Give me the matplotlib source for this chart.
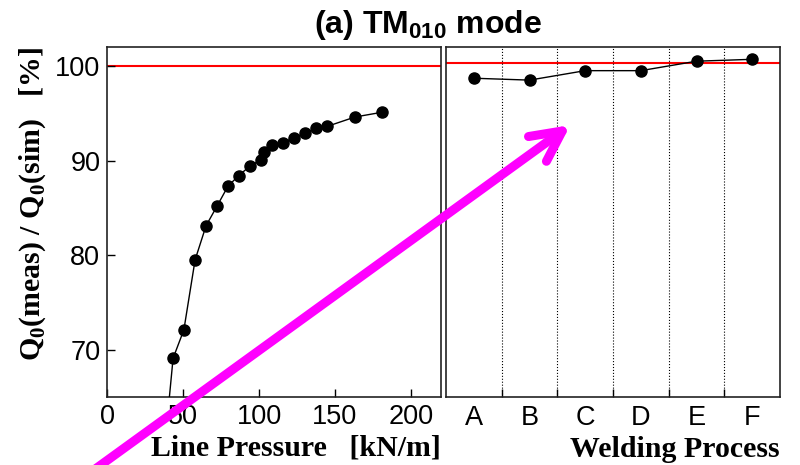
import matplotlib
matplotlib.use("Agg")
import matplotlib.pyplot as plt
from matplotlib.patches import FancyArrowPatch

plt.rcParams["font.family"] = ["Liberation Sans", "DejaVu Sans"]
plt.rcParams["mathtext.fontset"] = "custom"
plt.rcParams["mathtext.rm"] = "Liberation Serif:bold"
plt.rcParams["mathtext.bf"] = "Liberation Sans:bold"

# dados
pressao = [38, 43.4, 50.5, 57.9, 65.1, 72.4, 79.6, 86.6, 93.9, 101.3, 103.1,
           108.6, 115.8, 123.0, 130.3, 137.7, 144.7, 163.2, 180.9]
q_pressao = [60.0, 69.1, 72.1, 79.5, 83.1, 85.2, 87.3, 88.4, 89.4, 90.1, 90.9,
             91.6, 91.9, 92.4, 92.9, 93.4, 93.6, 94.6, 95.1]

processos = ["A", "B", "C", "D", "E", "F"]
q_processo = [98.7, 98.5, 99.5, 99.5, 100.5, 100.7]

ref_esq = 100.0
ref_dir = 100.3

fig = plt.figure(figsize=(8, 4.65), dpi=100)
ax1 = fig.add_axes([0.134, 0.1462, 0.4175, 0.7527])
ax2 = fig.add_axes([0.5575, 0.1462, 0.4175, 0.7527])

serif_bold = dict(family="Liberation Serif", weight="bold", size=21.5)

# painel esquerdo
ax1.axhline(ref_esq, color="red", lw=1.5, zorder=1)
ax1.plot(pressao, q_pressao, color="black", lw=1, marker="o", ms=8, zorder=3)
ax1.set_xlim(0, 220)
ax1.set_ylim(65, 102)
ax1.set_xticks([0, 50, 100, 150, 200])
ax1.set_yticks([70, 80, 90, 100])
ax1.tick_params(direction="in", length=6, width=1, labelsize=19.5, pad=5,
                top=False, right=False)
ax1.set_xlabel("Line Pressure   [kN/m]", loc="right", labelpad=3, **serif_bold)
ax1.set_ylabel("Q$_0$(meas) / Q$_0$(sim)   [%]", loc="top", labelpad=5,
               **serif_bold)

# painel direito
pos = list(range(len(processos)))
ax2.axhline(ref_dir, color="red", lw=1.5, zorder=1)
ax2.plot(pos, q_processo, color="black", lw=1, marker="o", ms=8, zorder=3)
ax2.set_xlim(-0.5, len(processos) - 0.5)
ax2.set_ylim(65, 102)
ax2.set_xticks(pos)
ax2.set_xticklabels(processos)
ax2.set_xticks([p + 0.5 for p in pos[:-1]], minor=True)
ax2.tick_params(axis="x", which="major", length=0, labelsize=19.5, pad=6)
ax2.tick_params(axis="x", which="minor", direction="in", length=6, width=1)
ax2.set_yticks([])
ax2.grid(True, which="minor", axis="x", color="black", linestyle=":", lw=0.8)
ax2.set_xlabel("Welding Process", loc="right", labelpad=3, **serif_bold)

for ax in (ax1, ax2):
    for s in ax.spines.values():
        s.set_linewidth(1.2)
        s.set_color("#222222")

fig.text(0.535, 0.929, "(a) TM$_\\mathbf{010}$ mode", ha="center",
         va="baseline", fontsize=23, fontweight="bold")

seta = FancyArrowPatch((0.118, -0.01), (0.713, 0.731),
                       transform=fig.transFigure,
                       arrowstyle="->,head_length=1.1,head_width=0.55",
                       mutation_scale=20, color="#ff00ff", lw=6.5,
                       capstyle="round", joinstyle="round",
                       shrinkA=0, shrinkB=0, clip_on=False, zorder=10)
fig.add_artist(seta)

fig.savefig("out.png", dpi=100)
